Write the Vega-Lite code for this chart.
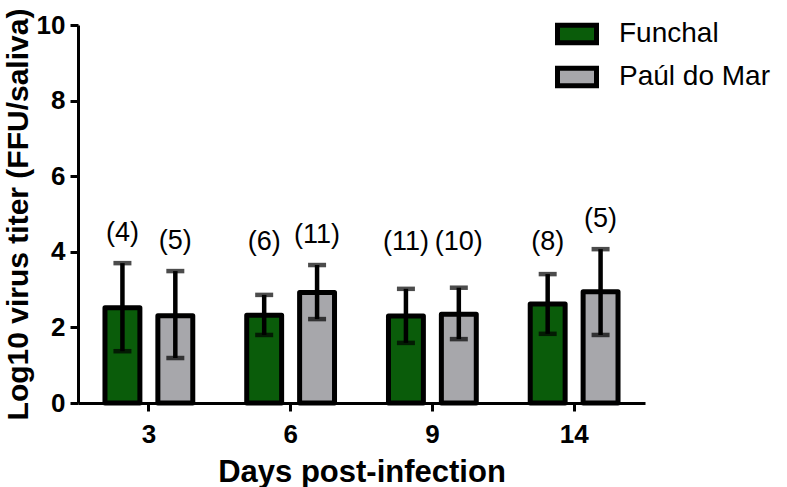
{
  "$schema": "https://vega.github.io/schema/vega-lite/v6.json",
  "width": 567,
  "height": 378,
  "autosize": {"type": "none"},
  "padding": {"left": 78, "top": 25, "right": 142, "bottom": 84},
  "data": {
    "values": [
      {"day": 3, "group": "Funchal", "mean": 2.52, "lo": 1.37, "hi": 3.70, "n": "(4)"},
      {"day": 3, "group": "Paúl do Mar", "mean": 2.31, "lo": 1.19, "hi": 3.49, "n": "(5)"},
      {"day": 6, "group": "Funchal", "mean": 2.32, "lo": 1.80, "hi": 2.86, "n": "(6)"},
      {"day": 6, "group": "Paúl do Mar", "mean": 2.92, "lo": 2.22, "hi": 3.65, "n": "(11)"},
      {"day": 9, "group": "Funchal", "mean": 2.30, "lo": 1.59, "hi": 3.02, "n": "(11)"},
      {"day": 9, "group": "Paúl do Mar", "mean": 2.35, "lo": 1.69, "hi": 3.05, "n": "(10)"},
      {"day": 14, "group": "Funchal", "mean": 2.62, "lo": 1.83, "hi": 3.41, "n": "(8)"},
      {"day": 14, "group": "Paúl do Mar", "mean": 2.94, "lo": 1.80, "hi": 4.07, "n": "(5)"}
    ]
  },
  "encoding": {
    "x": {
      "field": "day",
      "type": "ordinal",
      "scale": {"paddingInner": 0, "paddingOuter": 0},
      "axis": {
        "title": "Days post-infection",
        "labelAngle": 0,
        "labelFont": "Liberation Sans",
        "labelFontWeight": "bold",
        "labelFontSize": 26,
        "labelColor": "black",
        "labelPadding": 10,
        "titleFont": "Liberation Sans",
        "titleFontWeight": "bold",
        "titleFontSize": 31,
        "titleColor": "black",
        "titlePadding": 10,
        "domainColor": "black",
        "domainWidth": 3,
        "tickColor": "black",
        "tickWidth": 3,
        "tickSize": 8
      }
    },
    "xOffset": {
      "field": "group",
      "type": "nominal",
      "scale": {"paddingInner": 0.34, "paddingOuter": 0.51}
    }
  },
  "layer": [
    {
      "mark": {"type": "bar", "stroke": "black", "strokeWidth": 5, "strokeJoin": "round"},
      "encoding": {
        "y": {
          "field": "mean",
          "type": "quantitative",
          "scale": {"domain": [0, 10], "nice": false},
          "axis": {
            "title": "Log10 virus titer (FFU/saliva)",
            "values": [0, 2, 4, 6, 8, 10],
            "grid": false,
            "labelFont": "Liberation Sans",
            "labelFontWeight": "bold",
            "labelFontSize": 26,
            "labelColor": "black",
            "labelPadding": 5,
            "titleFont": "Liberation Sans",
            "titleFontWeight": "bold",
            "titleFontSize": 30,
            "titleColor": "black",
            "titleX": -45,
            "titleBaseline": "bottom",
            "domainColor": "black",
            "domainWidth": 3,
            "tickColor": "black",
            "tickWidth": 3,
            "tickSize": 8
          }
        },
        "color": {
          "field": "group",
          "type": "nominal",
          "scale": {"domain": ["Funchal", "Paúl do Mar"], "range": ["#0a5c0a", "#a7a7ab"]},
          "legend": {
            "title": null,
            "orient": "none",
            "legendX": 477,
            "legendY": -13,
            "symbolType": "M-1,-0.45H1V0.45H-1Z",
            "symbolSize": 1521,
            "symbolStrokeColor": "black",
            "symbolStrokeWidth": 5,
            "symbolOpacity": 1,
            "labelFont": "Liberation Sans",
            "labelFontSize": 28,
            "labelColor": "black",
            "labelOffset": 20,
            "rowPadding": 2,
            "labelLimit": 300
          }
        }
      }
    },
    {
      "mark": {"type": "rule", "color": "black", "strokeWidth": 4.5},
      "encoding": {
        "y": {"field": "lo", "type": "quantitative"},
        "y2": {"field": "hi"}
      }
    },
    {
      "mark": {"type": "tick", "color": "black", "thickness": 4.5, "size": 18, "orient": "horizontal"},
      "encoding": {"y": {"field": "hi", "type": "quantitative"}}
    },
    {
      "mark": {"type": "tick", "color": "black", "thickness": 4.5, "size": 18, "orient": "horizontal"},
      "encoding": {"y": {"field": "lo", "type": "quantitative"}}
    },
    {
      "transform": [{"calculate": "max(datum.hi + 0.8, 4.25)", "as": "labelY"}],
      "mark": {"type": "text", "font": "Liberation Sans", "fontSize": 27, "color": "black", "baseline": "middle"},
      "encoding": {
        "y": {"field": "labelY", "type": "quantitative"},
        "text": {"field": "n"}
      }
    }
  ],
  "config": {"view": {"stroke": null}}
}
